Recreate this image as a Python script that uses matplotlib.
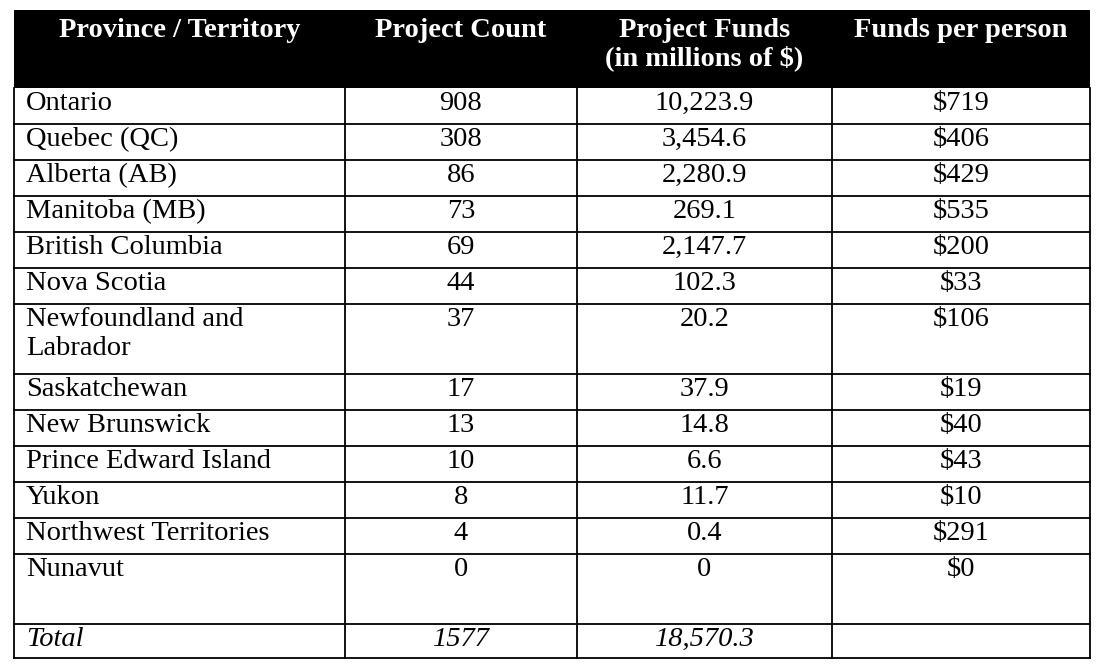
import matplotlib
matplotlib.use('Agg')
import matplotlib.pyplot as plt

provinces = ['Ontario', 'Quebec (QC)', 'Alberta (AB)', 'Manitoba (MB)', 'British Columbia',
             'Nova Scotia', 'Newfoundland and\nLabrador', 'Saskatchewan', 'New Brunswick',
             'Prince Edward Island', 'Yukon', 'Northwest Territories', 'Nunavut']
counts = ['908', '308', '86', '73', '69', '44', '37', '17', '13', '10', '8', '4', '0']
funds = ['10,223.9', '3,454.6', '2,280.9', '269.1', '2,147.7', '102.3', '20.2',
         '37.9', '14.8', '6.6', '11.7', '0.4', '0']
per_person = ['$719', '$406', '$429', '$535', '$200', '$33', '$106', '$19', '$40',
              '$43', '$10', '$291', '$0']
headers = ['Province / Territory', 'Project Count', 'Project Funds\n(in millions of $)', 'Funds per person']
total = ['Total', '1577', '18,570.3', '']

W, H = 1096, 664
fig = plt.figure(figsize=(W / 100, H / 100), dpi=100)
ax = fig.add_axes([0, 0, 1, 1])
ax.set_xlim(0, W)
ax.set_ylim(H, 0)
ax.axis('off')

font = 'Liberation Serif'
fs = 20.5
cols = [14, 345, 577, 832, 1090]
top, head_bot = 10, 88

# header
ax.fill_between([cols[0], cols[-1]], top, head_bot, color='black', lw=0)
for i, h in enumerate(headers):
    ax.text((cols[i] + cols[i + 1]) / 2, top + 8, h, color='white', fontweight='bold',
            family=font, fontsize=fs, ha='center', va='top', linespacing=1.1)

# row bounds
heights = [70 if '\n' in p else 36 for p in provinces]
heights[-1] = 70
y = head_bot
bounds = [y]
for h in heights:
    y += h
    bounds.append(y)
bounds.append(y + 34)

rows = list(zip(provinces, counts, funds, per_person)) + [tuple(total)]
for r, row in enumerate(rows):
    y0 = bounds[r]
    italic = 'italic' if r == len(rows) - 1 else 'normal'
    for i, val in enumerate(row):
        if i == 0:
            x, ha = cols[0] + 12, 'left'
        else:
            x, ha = (cols[i] + cols[i + 1]) / 2, 'center'
        ax.text(x, y0 + 3, val, family=font, fontsize=fs, ha=ha, va='top',
                style=italic, linespacing=1.2)

for b in bounds[1:]:
    ax.plot([cols[0], cols[-1]], [b, b], color='black', lw=1.3)
for c in cols:
    ax.plot([c, c], [head_bot, bounds[-1]], color='black', lw=1.3)

fig.savefig('out.png', dpi=100, facecolor='white')
